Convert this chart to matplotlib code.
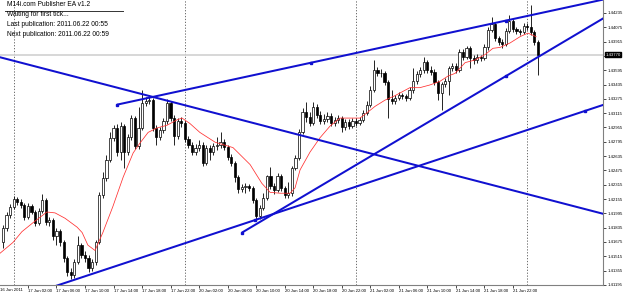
import matplotlib
matplotlib.use('Agg')
import matplotlib.pyplot as plt
from matplotlib.lines import Line2D

plt.rcParams['font.family'] = ['Liberation Sans', 'DejaVu Sans']

# EURUSD-ish M30 candles, prices in pips above 1.4000
# (bar 0 = 16 Jun 22:30, 48 bars per day, open = previous close)
first_open = 167
closes = [183, 198, 207, 216, 212, 209, 195, 208, 201, 189,
          202, 214, 190, 192, 174, 180, 167, 150, 134, 131,
          145, 164, 153, 150, 138, 145, 167, 220, 239, 259,
          284, 295, 268, 297, 268, 285, 306, 275, 295, 323,
          325, 326, 295, 285, 293, 303, 323, 306, 286, 303,
          300, 283, 276, 268, 273, 276, 256, 273, 268, 275,
          276, 279, 274, 262, 256, 240, 227, 229, 230, 228,
          214, 197, 205, 217, 241, 230, 226, 241, 228, 220,
          222, 250, 261, 290, 313, 307, 300, 318, 309, 303,
          305, 308, 300, 304, 306, 296, 302, 297, 303, 300,
          304, 312, 321, 337, 360, 356, 356, 346, 327, 325,
          328, 332, 331, 328, 337, 347, 355, 360, 369, 360,
          358, 346, 334, 344, 347, 362, 364, 360, 380, 374,
          384, 373, 371, 374, 373, 385, 404, 411, 396, 391,
          389, 403, 415, 406, 403, 402, 409, 408, 402, 391,
          377]
highs = [186, 201, 210, 219, 218, 216, 211, 211, 210, 203,
         205, 221, 217, 195, 194, 183, 182, 170, 152, 138,
         148, 174, 166, 157, 153, 148, 170, 223, 246, 265,
         290, 298, 299, 302, 299, 288, 309, 308, 318, 337,
         330, 332, 328, 298, 296, 306, 327, 325, 309, 306,
         307, 303, 286, 279, 277, 281, 279, 276, 276, 278,
         285, 290, 283, 276, 266, 258, 242, 232, 233, 232,
         230, 217, 209, 222, 242, 251, 233, 245, 243, 230,
         235, 252, 265, 294, 317, 324, 313, 324, 322, 314,
         311, 313, 312, 307, 309, 308, 305, 305, 306, 306,
         307, 315, 325, 342, 371, 363, 361, 359, 349, 337,
         332, 335, 334, 333, 341, 362, 359, 363, 374, 371,
         364, 361, 349, 346, 351, 364, 368, 368, 383, 383,
         387, 387, 377, 378, 377, 389, 408, 419, 413, 398,
         394, 407, 421, 417, 408, 406, 412, 412, 432, 404,
         393]
lows = [161, 180, 194, 204, 209, 205, 192, 193, 199, 185,
        186, 200, 186, 185, 170, 164, 163, 145, 129, 126,
        127, 143, 150, 145, 134, 135, 142, 165, 217, 236,
        257, 280, 264, 259, 250, 265, 281, 271, 271, 293,
        319, 322, 292, 276, 281, 289, 299, 303, 276, 283,
        296, 279, 273, 265, 265, 269, 252, 254, 259, 265,
        270, 273, 270, 259, 252, 235, 222, 223, 222, 224,
        211, 192, 193, 203, 214, 227, 221, 223, 224, 217,
        217, 219, 248, 259, 288, 302, 297, 298, 306, 299,
        299, 302, 297, 297, 300, 290, 293, 294, 295, 297,
        298, 302, 309, 318, 335, 353, 352, 343, 306, 322,
        322, 326, 327, 325, 326, 334, 344, 352, 356, 356,
        354, 343, 326, 315, 341, 332, 359, 356, 358, 371,
        372, 362, 366, 368, 370, 371, 382, 402, 392, 388,
        384, 387, 401, 402, 400, 399, 400, 404, 399, 388,
        354]

# red moving average (bar, pips)
ma_bar = [-0.8, 2.8, 5.3, 8.4, 12.3, 14.6, 17.4, 20.8, 22.2, 23.8, 25.8, 28.0,
          30.8, 33.7, 36.5, 38.4, 40.7, 43.2, 46.0, 48.8, 50.2, 52.4, 55.2, 59.5,
          64.5, 69.3, 72.6, 74.9, 77.7, 80.5, 81.9, 83.3, 86.1, 88.9, 91.7, 94.5,
          97.3, 100.1, 102.1, 104.3, 107.1, 109.9, 114.1, 116.9, 119.7, 122.5,
          124.8, 126.8, 129.6, 132.4, 135.2, 137.4, 139.4, 142.2, 145.0, 147.2,
          149.5]
ma_val = [155, 167, 179, 189, 201, 200, 194, 184, 178, 164, 158, 178,
          207, 240, 267, 278, 290, 295, 298, 304, 306, 300, 290, 279,
          273, 254, 233, 223, 222, 222, 228, 248, 268, 284, 297, 306,
          306, 306, 312, 319, 326, 331, 340, 340, 343, 347,
          353, 356, 368, 371, 377, 384, 385, 390, 397, 401,
          397]

# trend lines: (bar1, pips1, bar2, pips2, extend_left, extend_right)
trendlines = [
    (-0.84, 374, 168.3, 199, True, True),
    (31.97, 321, 141.05, 415, False, True),
    (70.67, 192, 163.2, 314, True, True),
    (67.02, 178, 141.05, 353, False, True),
]
# anchor squares of the selected objects
anchor_bar = [31.97, 86.5, 141.05, 67.02, 141.05, 70.67, 163.2]
anchor_pips = [321, 368, 415, 178, 353, 192, 314]

day_starts = [3, 51, 99, 147]
xtick_bars = [7, 15, 23, 31, 39, 47, 55, 63, 71, 79, 87, 95, 103, 111, 119, 127, 135, 143]
xtick_labels = ['17 Jun 02:00', '17 Jun 06:00', '17 Jun 10:00', '17 Jun 14:00',
                '17 Jun 18:00', '17 Jun 22:00', '20 Jun 02:00', '20 Jun 06:00',
                '20 Jun 10:00', '20 Jun 14:00', '20 Jun 18:00', '20 Jun 22:00',
                '21 Jun 02:00', '21 Jun 06:00', '21 Jun 10:00', '21 Jun 14:00',
                '21 Jun 18:00', '21 Jun 22:00']
ytick_vals = [1.44235, 1.44075, 1.43915, 1.43755, 1.43595, 1.43435, 1.43275,
              1.43115, 1.42955, 1.42795, 1.42635, 1.42475, 1.42315, 1.42155,
              1.41995, 1.41835, 1.41675, 1.41515, 1.41355, 1.41195]
bid = 1.4377


def px(p):
    return 1.4 + p / 10000.0


fig = plt.figure(figsize=(6.25, 2.94), dpi=100)
ax = fig.add_axes([0, 9 / 294, 603 / 625, 285 / 294])
xmin, xmax = -0.84, 168.26
ax.set_xlim(xmin, xmax)
ax.set_ylim(1.41194, 1.4438)

bars = list(range(len(closes)))
opens = [first_open] + closes[:-1]
c = [px(v) for v in closes]
o = [px(v) for v in opens]
h = [px(v) for v in highs]
l = [px(v) for v in lows]

# separators and bid line
for d in day_starts:
    ax.axvline(d, color='#555555', lw=0.6, ls=(0, (1.5, 2)), zorder=1)
ax.axhline(bid, color='#d4d4d4', lw=1.3, zorder=1)

# candles
ax.vlines(bars, l, h, color='black', lw=0.6, zorder=2)
bottoms = [min(a, b) for a, b in zip(o, c)]
heights = [max(abs(a - b), 0.00002) for a, b in zip(o, c)]
fills = ['white' if cc >= oo else 'black' for oo, cc in zip(o, c)]
ax.bar(bars, heights, bottom=bottoms, width=0.62, color=fills,
       edgecolor='black', linewidth=0.5, zorder=3)

# moving average
ax.plot(ma_bar, [px(v) for v in ma_val], color='#ff3030', lw=0.55, zorder=4)

# trend lines
for b1, p1, b2, p2, ext_l, ext_r in trendlines:
    slope = (p2 - p1) / (b2 - b1)
    xa = xmin - 1 if ext_l else b1
    xb = xmax + 1 if ext_r else b2
    ax.plot([xa, xb], [px(p1 + slope * (xa - b1)), px(p1 + slope * (xb - b1))],
            color='#1010d0', lw=1.45, zorder=5, solid_capstyle='butt')
ax.plot(anchor_bar, [px(v) for v in anchor_pips], 's', color='#1010d0',
        ms=1.6, zorder=6)

# axes look
for s in ['top', 'left']:
    ax.spines[s].set_visible(False)
ax.spines['right'].set_color('#808080')
ax.spines['bottom'].set_color('#808080')
ax.spines['right'].set_linewidth(0.8)
ax.spines['bottom'].set_linewidth(0.8)
ax.yaxis.tick_right()
ax.set_yticks(ytick_vals)
# the tick under the current price box has its label hidden by the box
ax.set_yticklabels(['' if abs(v - bid) < 0.0003 else '%.5f' % v for v in ytick_vals])
ax.set_xticks(xtick_bars)
ax.set_xticklabels(xtick_labels)
ax.tick_params(axis='both', labelsize=3.1, length=2, width=0.5, pad=1,
               colors='black')
plt.setp(ax.get_xticklabels(), ha='left')
ax.text(xmin, -0.012, '16 Jun 2011', transform=ax.get_xaxis_transform(),
        fontsize=3.1, ha='left', va='top', clip_on=False)

# current price box
ax.text(1.004, bid, '%.5f' % bid, transform=ax.get_yaxis_transform(),
        fontsize=3.1, color='white', ha='left', va='center', clip_on=False,
        zorder=10, bbox=dict(facecolor='black', edgecolor='black', pad=0.6))

# EA status comment
fig.text(7 / 625, 1 - 4 / 294, 'M14i.com Publisher EA v1.2', fontsize=4.8, va='center')
fig.add_artist(Line2D([5 / 625, 123 / 625], [1 - 11 / 294, 1 - 11 / 294],
                      color='#333333', lw=0.7))
fig.text(7 / 625, 1 - 15 / 294, 'Waiting for first tick...', fontsize=4.8, va='center')
fig.text(7 / 625, 1 - 24.5 / 294, 'Last publication: 2011.06.22 00:55', fontsize=4.8, va='center')
fig.text(7 / 625, 1 - 34 / 294, 'Next publication: 2011.06.22 00:59', fontsize=4.8, va='center')

fig.savefig('out.png', dpi=100, facecolor='white')
